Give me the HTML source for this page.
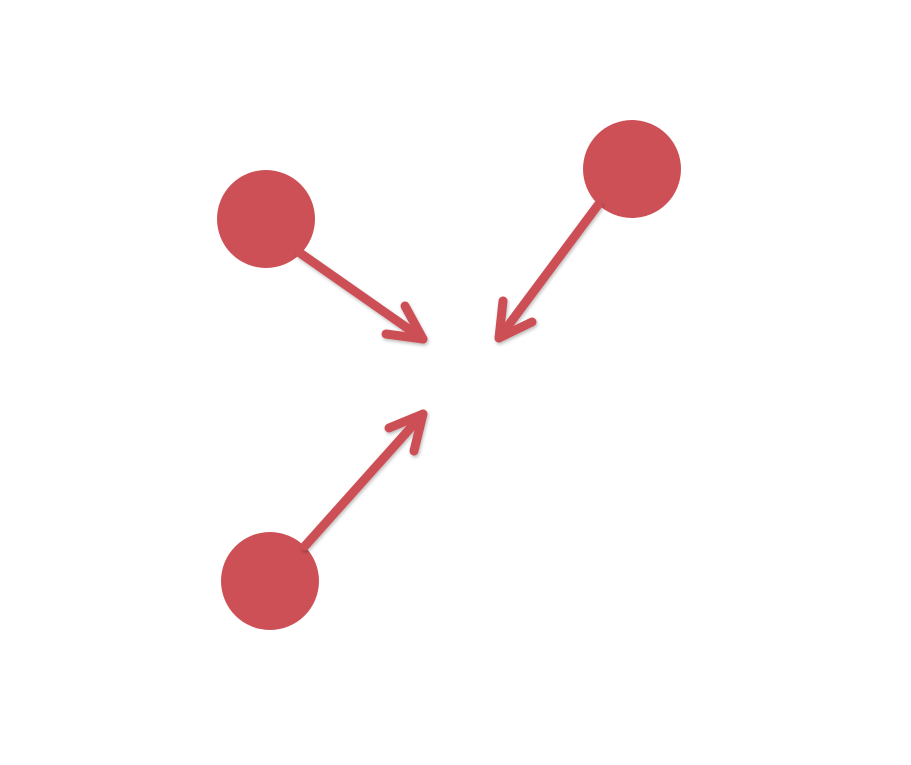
<!DOCTYPE html>
<html><head><meta charset="utf-8"><style>
html,body{margin:0;padding:0;background:#fff;width:911px;height:765px;overflow:hidden}
</style></head><body>
<svg width="911" height="765" viewBox="0 0 911 765">
<defs><filter id="sh" x="-20%" y="-20%" width="140%" height="140%"><feDropShadow dx="1" dy="2" stdDeviation="1.5" flood-color="#000" flood-opacity="0.25"/></filter></defs>
<g fill="#CD5057" stroke="none">
<circle cx="266" cy="219" r="49"/>
<circle cx="632" cy="169" r="49"/>
<circle cx="270" cy="581" r="49"/>
</g>
<g stroke="#CD5057" stroke-width="9" stroke-linecap="round" stroke-linejoin="round" fill="none" filter="url(#sh)">
<g>
<line x1="300" y1="253" x2="423" y2="339"/>
<polyline points="386,334 423,339 405,306"/>
</g>
<g>
<line x1="598" y1="205" x2="499" y2="338"/>
<polyline points="532,322 499,338 503,301"/>
</g>
<g>
<line x1="305" y1="546" x2="423" y2="414"/>
<polyline points="389,428 423,414 414,451"/>
</g>
</g>
</svg>
</body></html>
